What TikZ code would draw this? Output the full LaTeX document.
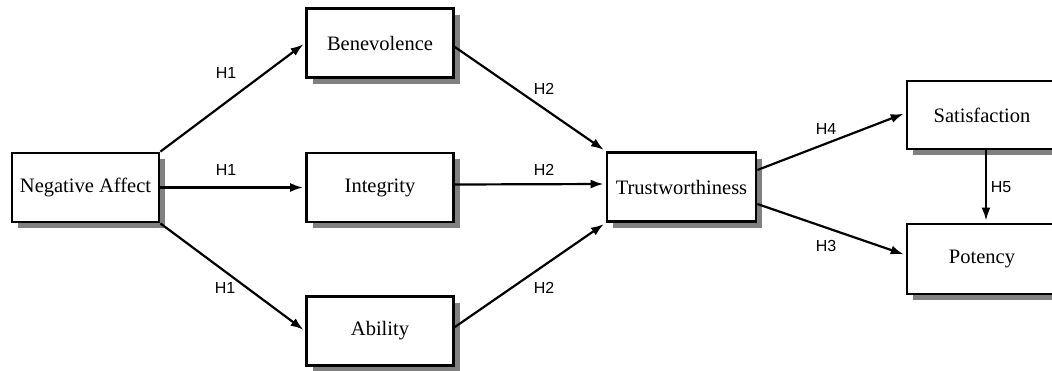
\documentclass[tikz,border=0pt]{standalone}
\usepackage{fontspec}
\setmainfont{Liberation Serif}
\newfontfamily\labfont{Liberation Sans}
\usetikzlibrary{arrows.meta,shadows}
\begin{document}
\begin{tikzpicture}[x=1pt,y=-1pt,
  box/.style={draw=black, line width=2.8pt, fill=white, inner sep=0pt,
    minimum width=147pt, minimum height=69pt, font=\fontsize{20.5}{24}\selectfont,
    general shadow={fill=black!50, shadow xshift=6pt, shadow yshift=-6pt}},
  arr/.style={line width=2.2pt, -{Latex[length=13pt,width=9pt]}, shorten >=2pt},
  lab/.style={font=\labfont\fontsize{16}{19}\selectfont, inner sep=0pt}]
\useasboundingbox (0,0) rectangle (1052,370);
\clip (0,0) rectangle (1052,370);
\node[box] (NA) at (85.5,187.5) {Negative Affect};
\node[box] (Ben) at (380,43) {Benevolence};
\node[box] (Int) at (380,187.5) {Integrity};
\node[box] (Abi) at (380,331) {Ability};
\node[box, minimum width=149pt] (Tru) at (681.5,187) {Trustworthiness};
\node[box, minimum width=150pt, minimum height=68pt] (Sat) at (982,115) {Satisfaction};
\node[box, minimum width=150pt, minimum height=70pt] (Pot) at (982,259) {Potency};
\draw[arr] (NA.north east) -- (Ben.west);
\draw[arr] (NA.east) -- (Int.west);
\draw[arr] (NA.south east) -- (Abi.west);
\draw[arr] ([yshift=-4pt]Ben.east) -- (Tru.north west);
\draw[arr] ([yshift=3pt]Int.east) -- ([yshift=3pt]Tru.west);
\draw[arr] ([yshift=4pt]Abi.east) -- (Tru.south west);
\draw[arr] ([yshift=17pt]Tru.east) -- ([yshift=2pt]Sat.west);
\draw[arr] ([yshift=-17pt]Tru.east) -- ([yshift=4pt]Pot.west);
\draw[arr] ([xshift=4pt]Sat.south) -- ([xshift=4pt]Pot.north);
\node[lab] (l1) at (226,73) {H1};
\node[lab] (l2) at (226,170) {H1};
\node[lab] (l3) at (225,288) {H1};
\node[lab] (l4) at (544,89) {H2};
\node[lab] (l5) at (544,170) {H2};
\node[lab] (l6) at (544,288) {H2};
\node[lab] (l7) at (826,129) {H4};
\node[lab] (l8) at (826,246) {H3};
\node[lab] (l9) at (1001,187) {H5};
\end{tikzpicture}
\end{document}
